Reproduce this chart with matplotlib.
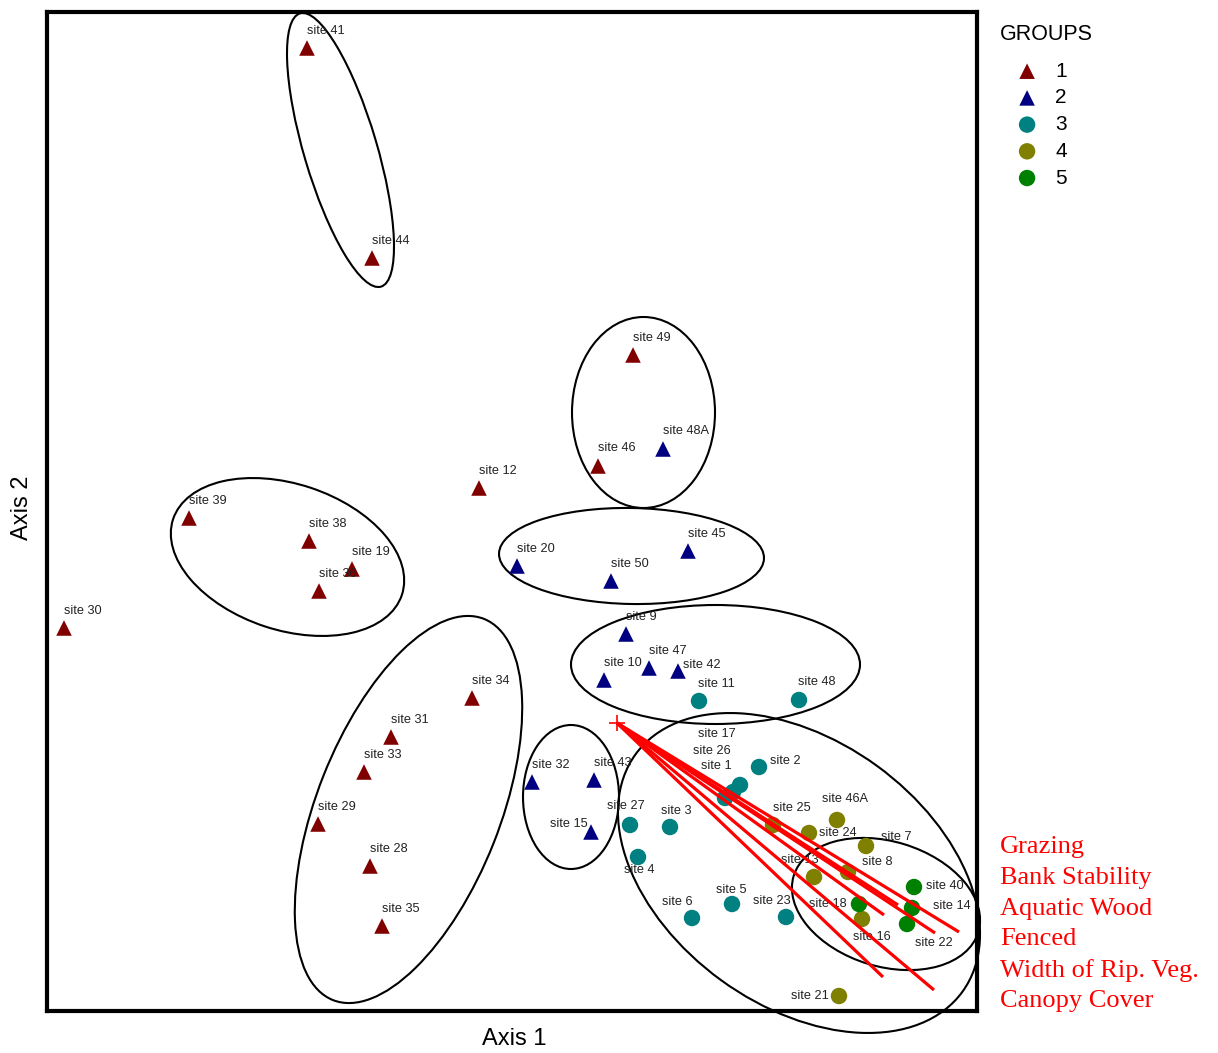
import matplotlib
matplotlib.use("Agg")
import matplotlib.pyplot as plt
from matplotlib.patches import Ellipse

# ---------------- data ----------------
groups = ["1", "2", "3", "4", "5"]
group_colors = ["#800000", "#000080", "#008080", "#808000", "#008000"]
group_markers = ["^", "^", "o", "o", "o"]

g1_sites = ["site 41", "site 44", "site 49", "site 46", "site 12", "site 39", "site 38", "site 19",
            "site 36", "site 30", "site 34", "site 31", "site 33", "site 29", "site 28", "site 35"]
g1_x = [260, 325, 586, 551, 432, 142, 262, 305, 272, 17, 425, 344, 317, 271, 323, 335]
g1_y = [963, 753, 656, 545, 523, 493, 470, 442, 420, 383, 313, 274, 239, 187, 145, 85]

g2_sites = ["site 48A", "site 45", "site 20", "site 50", "site 9", "site 47", "site 42", "site 10",
            "site 32", "site 43", "site 15"]
g2_x = [616, 641, 470, 564, 579, 602, 631, 557, 485, 547, 544]
g2_y = [562, 460, 445, 430, 377, 343, 340, 331, 229, 231, 179]

g3_sites = ["site 11", "site 48", "site 2", "site 17", "site 26", "site 1", "site 27", "site 3",
            "site 4", "site 5", "site 6", "site 23"]
g3_x = [652, 752, 712, 693, 686, 678, 583, 623, 591, 685, 645, 739]
g3_y = [310, 311, 244, 226, 219, 213, 186, 184, 154, 107, 93, 94]

g4_sites = ["site 25", "site 46A", "site 24", "site 7", "site 8", "site 13", "site 16", "site 21"]
g4_x = [726, 790, 762, 819, 801, 767, 815, 792]
g4_y = [186, 191, 178, 165, 139, 134, 92, 15]

g5_sites = ["site 40", "site 14", "site 22", "site 18"]
g5_x = [867, 865, 860, 812]
g5_y = [124, 103, 87, 107]

# biplot vectors (environmental variables)
vec_labels = ["Grazing", "Bank Stability", "Aquatic Wood", "Fenced",
              "Width of Rip. Veg.", "Canopy Cover"]
vec_origin = (570, 288)
vec_x = [912, 888, 851, 837, 836, 887]
vec_y = [79, 78, 106, 96, 34, 21]

# group ellipses: centre x, centre y, width, height, angle
ell_cx = [293.5, 596.5, 240.5, 584.5, 668.5, 361.5, 524, 752, 839]
ell_cy = [861, 598.5, 454, 455, 346.5, 201.5, 214, 138, 107]
ell_w = [285, 143, 241, 265, 289, 410, 96, 404, 193]
ell_h = [73, 191, 146, 96, 119, 183, 144, 265, 125]
ell_a = [-73.5, 0, -18.3, -1, 0, 68.4, 0, -36, -17]

# ---------------- label placement (offset pixels, ha) ----------------
default_off = (0, 17, "left")
label_off = {
    "site 42": (5, 6, "left"), "site 15": (-3, 8, "right"),
    "site 17": (-42, 51, "left"), "site 26": (-40, 41, "left"), "site 1": (-24, 32, "left"),
    "site 2": (11, 6, "left"), "site 27": (-23, 19, "left"), "site 3": (-9, 16, "left"),
    "site 4": (-14, -13, "left"), "site 5": (-16, 14, "left"), "site 6": (-30, 16, "left"),
    "site 23": (-33, 16, "left"), "site 46A": (-15, 21, "left"), "site 24": (10, 0, "left"),
    "site 7": (15, 9, "left"), "site 8": (14, 10, "left"), "site 13": (-33, 17, "left"),
    "site 18": (-12, 0, "right"), "site 16": (-9, -18, "left"), "site 40": (12, 1, "left"),
    "site 14": (21, 2, "left"), "site 22": (8, -19, "left"), "site 21": (-10, 0, "right"),
    "site 46": (0, 18, "left"), "site 48A": (0, 18, "left"), "site 48": (-1, 18, "left"),
    "site 11": (-1, 17, "left"),
}

W, H = 1218, 1053
fig = plt.figure(figsize=(W / 100, H / 100), dpi=100)
ax = fig.add_axes([47 / W, 1 - 1011 / H, 930 / W, 999 / H])
ax.set_xlim(0, 930)
ax.set_ylim(0, 999)
ax.set_xticks([])
ax.set_yticks([])
for s in ax.spines.values():
    s.set_linewidth(3)
    s.set_zorder(10)

# ellipses
for cx, cy, w, h, a in zip(ell_cx, ell_cy, ell_w, ell_h, ell_a):
    ax.add_patch(Ellipse((cx, cy), w, h, angle=a, fill=False, edgecolor="black",
                         linewidth=1.5, clip_on=False, zorder=1))

all_sites = [g1_sites, g2_sites, g3_sites, g4_sites, g5_sites]
all_x = [g1_x, g2_x, g3_x, g4_x, g5_x]
all_y = [g1_y, g2_y, g3_y, g4_y, g5_y]

handles = []
for gname, col, mk, sites, xs, ys in zip(groups, group_colors, group_markers, all_sites, all_x, all_y):
    size = 125 if mk == "^" else 140
    h = ax.scatter(xs, ys, s=size, marker=mk, color=col, edgecolors="none", zorder=2, label=gname)
    handles.append(h)
    for name, x, y in zip(sites, xs, ys):
        dx, dy, ha = label_off.get(name, default_off)
        ax.annotate(name, (x, y), xytext=(dx, dy), textcoords="offset pixels",
                    ha=ha, va="center", fontsize=9.2, family="Liberation Sans",
                    color="#222222", zorder=3)

# biplot vectors
for vx, vy in zip(vec_x, vec_y):
    ax.plot([vec_origin[0], vx], [vec_origin[1], vy], color="red", linewidth=2.3,
            solid_capstyle="butt", zorder=4)
ax.plot([vec_origin[0]], [vec_origin[1]], marker="+", color="red", markersize=11,
        markeredgewidth=1.2, zorder=5)

# vector labels
for i, lab in enumerate(vec_labels):
    fig.text(1000 / W, 1 - (847 + i * 30.8) / H, lab, color="red", fontsize=19,
             family="Liberation Serif", ha="left", va="center")

# axis titles
fig.text(514 / W, 1 - 1039 / H, "Axis 1", fontsize=17, family="Liberation Sans",
         ha="center", va="center")
fig.text(22 / W, 1 - 508 / H, "Axis 2", fontsize=17, family="Liberation Sans",
         ha="center", va="center", rotation=90)

# legend
leg = fig.legend(handles=handles, labels=groups, title="GROUPS", loc="upper left",
                 bbox_to_anchor=(1000 / W, 1 - 24 / H), frameon=False, borderpad=0,
                 borderaxespad=0, handlelength=2.6,
                 handletextpad=0.05, labelspacing=0.37, scatterpoints=1, alignment="left",
                 prop={"family": "Liberation Sans", "size": 15})
leg.get_title().set_family("Liberation Sans")
leg.get_title().set_fontsize(15.5)
leg._legend_box.sep = 12

fig.savefig("out.png", dpi=100)
